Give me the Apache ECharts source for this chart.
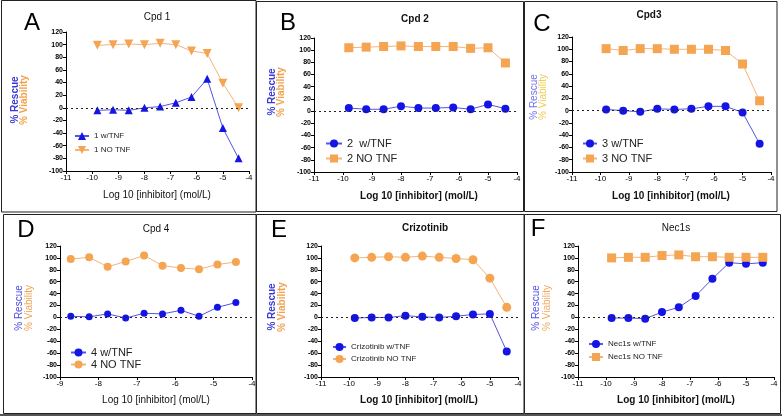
<!DOCTYPE html>
<html><head><meta charset="utf-8">
<script src="https://cdn.jsdelivr.net/npm/echarts@6/dist/echarts.min.js"></script>
<style>html,body{margin:0;padding:0;background:#fff}#c{width:782px;height:417px}</style>
</head><body><div id="c"></div>
<script>
// ---- data ----
var xStd = [-9.8, -9.2, -8.6, -8.0, -7.4, -6.8, -6.2, -5.6, -5.0, -4.4];
var xCpd4 = [-8.72, -8.24, -7.76, -7.29, -6.81, -6.33, -5.85, -5.38, -4.90, -4.42];

var cpd1Tnf = [-4, -3, -4, 0, 2, 8, 17, 46, -32, -80];
var cpd1No  = [99, 100, 101, 100, 102, 100, 90, 86, 39, 0];
var cpd2Tnf = [5, 3, 3, 8, 5, 5, 6, 3, 11, 4];
var cpd2No  = [104, 105, 106, 107, 106, 106, 106, 103, 104, 79];
var cpd3Tnf = [2, 0, -2, 3, 2, 3, 7, 7, -3, -54];
var cpd3No  = [101, 98, 101, 101, 100, 100, 100, 98, 76, 16];
var cpd4Tnf = [2, 1, 6, -1, 7, 6, 12, 2, 17, 25];
var cpd4No  = [98, 101, 85, 94, 104, 87, 83, 81, 89, 93];
var crizTnf = [-1, 0, 0, 3, 1, 0, 2, 5, 6, -57];
var crizNo  = [100, 101, 102, 101, 103, 101, 99, 97, 66, 17];
var necTnf  = [-1, -1, -2, 9, 17, 36, 65, 92, 90, 92];
var necNo   = [100, 101, 101, 104, 105, 102, 102, 101, 101, 101];

var titles = ['Cpd 1', 'Cpd 2', 'Cpd3', 'Cpd 4', 'Crizotinib', 'Nec1s'];
var letters = ['A', 'B', 'C', 'D', 'E', 'F'];
var legendNames = [
  ['1 w/TNF', '1 NO TNF'],
  ['2  w/TNF', '2 NO TNF'],
  ['3 w/TNF', '3 NO TNF'],
  ['4 w/TNF', '4 NO TNF'],
  ['Crizotinib w/TNF', 'Crizotinib NO TNF'],
  ['Nec1s w/TNF', 'Nec1s NO TNF']
];
var xAxisName = 'Log 10 [inhibitor] (mol/L)';
var yName1 = '% Rescue', yName2 = '% Viability';

// ---- layout ----
var panels = [
  {x: xStd, tnf: cpd1Tnf, no: cpd1No, xmin: -11, grid: {left: 66, top: 32, width: 183, height: 139},
   symT: 'triangle', symN: 'triangle', rotN: 180, sz: 8,
   legend: {left: 74, top: 132, w: 14, fs: 8, gap: 6},
   letter: [32, 23], title: [157, 17, 'normal', 10], xname: [157, 195, 'normal'],
   yn: [15, 24, 100], ync: ['#3a3ad8', '#f2a24e'], ynw: 'bold'},
  {x: xStd, tnf: cpd2Tnf, no: cpd2No, xmin: -11, grid: {left: 314, top: 38, width: 203, height: 134},
   symT: 'circle', symN: 'rect', rotN: 0, sz: 8,
   legend: {left: 325, top: 138, w: 16, fs: 11, gap: 4},
   letter: [288, 23], title: [415, 19, 'bold', 10], xname: [419, 196, 'bold'],
   yn: [272, 281, 92], ync: ['#3a3ad8', '#f2a24e'], ynw: 'bold'},
  {x: xStd, tnf: cpd3Tnf, no: cpd3No, xmin: -11, grid: {left: 572, top: 37, width: 199, height: 135},
   symT: 'circle', symN: 'rect', rotN: 0, sz: 8,
   legend: {left: 582, top: 138, w: 14, fs: 11, gap: 4},
   letter: [542, 24], title: [649, 15, 'bold', 10], xname: [671, 196, 'bold'],
   yn: [534, 543, 97], ync: ['#7070f0', '#f0cc50'], ynw: 'normal'},
  {x: xCpd4, tnf: cpd4Tnf, no: cpd4No, xmin: -9, grid: {left: 60, top: 246, width: 192, height: 131},
   symT: 'circle', symN: 'circle', rotN: 0, sz: 7,
   legend: {left: 70, top: 347, w: 15, fs: 11, gap: 1},
   letter: [26, 230], title: [156, 229, 'normal', 10], xname: [156, 400, 'normal'],
   yn: [19, 29, 308], ync: ['#4a4ae0', '#f2a24e'], ynw: 'normal'},
  {x: xStd, tnf: crizTnf, no: crizNo, xmin: -11, grid: {left: 321, top: 246, width: 197, height: 131},
   symT: 'circle', symN: 'circle', rotN: 0, sz: 8,
   legend: {left: 332, top: 343, w: 13, fs: 8, gap: 4},
   letter: [279, 230], title: [425, 228, 'bold', 10], xname: [419, 400, 'bold'],
   yn: [272, 282, 307], ync: ['#3a3ad8', '#f2a24e'], ynw: 'bold'},
  {x: xStd, tnf: necTnf, no: necNo, xmin: -11, grid: {left: 578, top: 246, width: 196, height: 131},
   symT: 'circle', symN: 'rect', rotN: 0, sz: 8,
   legend: {left: 588, top: 340, w: 14, fs: 8, gap: 5},
   letter: [538, 229], title: [676, 228, 'normal', 10], xname: [676, 400, 'bold'],
   yn: [536, 547, 308], ync: ['#5050e8', '#f2a860'], ynw: 'normal'}
];

var BLUE = '#1414e6', BLUE_L = '#5555e0', ORANGE = '#f5a452', ORANGE_L = '#f3b57a';
var FONT = '"Liberation Sans", Arial, sans-serif';

var option = {animation: false, backgroundColor: '#fff', grid: [], xAxis: [], yAxis: [], series: [], legend: [], graphic: []};

function pairs(xs, ys) { return xs.map(function (x, i) { return [x, ys[i]]; }); }

panels.forEach(function (p, i) {
  option.grid.push({left: p.grid.left, top: p.grid.top, width: p.grid.width, height: p.grid.height, containLabel: false});
  option.xAxis.push({
    type: 'value', gridIndex: i, min: p.xmin, max: -4, interval: 1,
    axisLine: {onZero: false, lineStyle: {color: '#000', width: 1}},
    axisTick: {show: true, length: 3, lineStyle: {color: '#000'}},
    axisLabel: {fontSize: 8, color: '#000', fontFamily: FONT, margin: 3},
    splitLine: {show: false}
  });
  option.yAxis.push({
    type: 'value', gridIndex: i, min: -100, max: 120, interval: 20,
    axisLine: {show: true, lineStyle: {color: '#000', width: 1}},
    axisTick: {show: true, length: 3, lineStyle: {color: '#000'}},
    axisLabel: {fontSize: 7, color: '#000', fontFamily: FONT, fontWeight: 'bold', margin: 3},
    splitLine: {show: false}
  });
  option.series.push({
    type: 'line', name: legendNames[i][0], xAxisIndex: i, yAxisIndex: i,
    data: pairs(p.x, p.tnf), symbol: p.symT, symbolSize: p.sz, z: 3,
    itemStyle: {color: BLUE}, lineStyle: {color: BLUE_L, width: 1},
    markLine: {silent: true, symbol: 'none', label: {show: false},
      lineStyle: {color: '#222', type: [2, 3], width: 1}, data: [{yAxis: 0}]}
  });
  option.series.push({
    type: 'line', name: legendNames[i][1], xAxisIndex: i, yAxisIndex: i,
    data: pairs(p.x, p.no), symbol: p.symN, symbolSize: p.sz + 1, symbolRotate: p.rotN, z: 3,
    itemStyle: {color: ORANGE}, lineStyle: {color: ORANGE_L, width: 1}
  });
  option.legend.push({
    data: legendNames[i], orient: 'vertical', left: p.legend.left, top: p.legend.top,
    itemWidth: p.legend.w, itemHeight: 10, itemGap: p.legend.gap, padding: 0,
    textStyle: {fontSize: p.legend.fs, color: '#222', fontFamily: FONT}
  });
  // panel letter
  option.graphic.push({type: 'text', x: p.letter[0], y: p.letter[1],
    style: {text: letters[i], font: '24px ' + FONT, fill: '#000', textAlign: 'center', textVerticalAlign: 'middle'}});
  // title
  option.graphic.push({type: 'text', x: p.title[0], y: p.title[1],
    style: {text: titles[i], font: p.title[2] + ' ' + p.title[3] + 'px ' + FONT, fill: '#111', textAlign: 'center', textVerticalAlign: 'middle'}});
  // x axis name
  option.graphic.push({type: 'text', x: p.xname[0], y: p.xname[1],
    style: {text: xAxisName, font: p.xname[2] + ' 10px ' + FONT, fill: '#111', textAlign: 'center', textVerticalAlign: 'middle'}});
  // y axis names
  option.graphic.push({type: 'text', x: p.yn[0], y: p.yn[2], rotation: Math.PI / 2,
    style: {text: yName1, font: p.ynw + ' 10px ' + FONT, fill: p.ync[0], textAlign: 'center', textVerticalAlign: 'middle'}});
  option.graphic.push({type: 'text', x: p.yn[1], y: p.yn[2], rotation: Math.PI / 2,
    style: {text: yName2, font: p.ynw + ' 10px ' + FONT, fill: p.ync[1], textAlign: 'center', textVerticalAlign: 'middle'}});
});

// panel frames
var frames = [
  [1.5, 0.5, 254.5, 211.5], [256.5, 1.5, 267, 210], [524.5, 1.5, 252.5, 210],
  [3.5, 214.5, 252.5, 199], [256.5, 214.5, 267.5, 199], [524.5, 214.5, 256, 199]
];
frames.forEach(function (f) {
  option.graphic.push({type: 'rect', shape: {x: f[0], y: f[1], width: f[2], height: f[3]}, z: -1,
    style: {fill: 'none', stroke: '#222', lineWidth: 1}});
});
option.graphic.push({type: 'line', shape: {x1: 0, y1: 415, x2: 782, y2: 415}, style: {stroke: '#555', lineWidth: 2}});

var chart = echarts.init(document.getElementById('c'), null, {renderer: 'canvas'});
chart.setOption(option);
</script>
</body></html>
